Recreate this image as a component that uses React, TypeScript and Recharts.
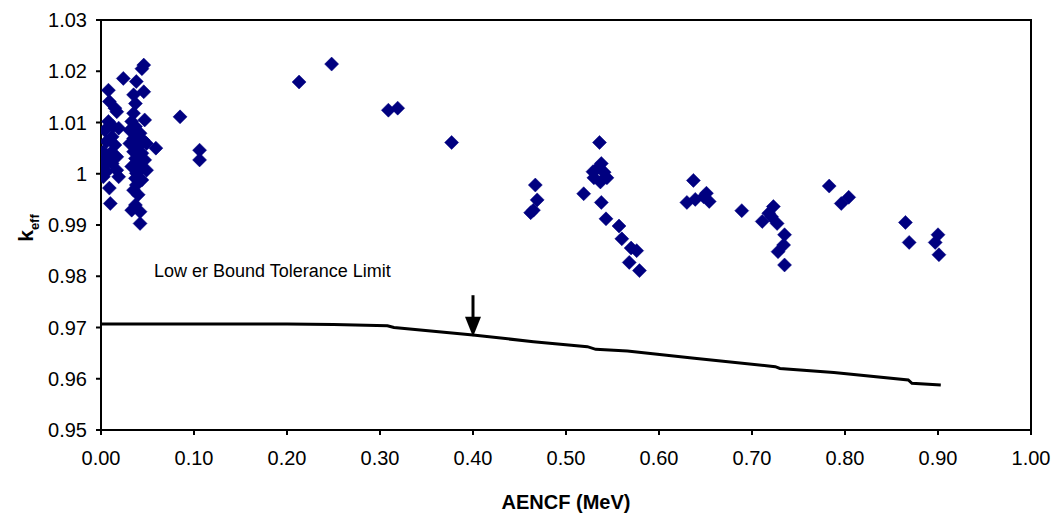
import React from "react";
import {
  ComposedChart,
  Scatter,
  Line,
  XAxis,
  YAxis,
  ReferenceLine,
  ReferenceDot,
  ReferenceArea,
  Label,
} from "recharts";

// Scatter: AENCF (MeV) values
const aencf: number[] = [
  0.008, 0.009, 0.015, 0.017, 0.008, 0.013, 0.019, 0.004, 0.012, 0.006, 0.015, 0.0025,
  0.010, 0.017, 0.004, 0.012, 0.0025, 0.006, 0.017, 0.019, 0.0025, 0.009, 0.010, 0.024,
  0.046, 0.044, 0.038, 0.046, 0.035, 0.037, 0.035, 0.047, 0.033, 0.037, 0.031, 0.042,
  0.035, 0.045, 0.031, 0.040, 0.049, 0.035, 0.044, 0.037, 0.047, 0.038, 0.033, 0.044,
  0.038, 0.049, 0.037, 0.044, 0.038, 0.035, 0.040, 0.037, 0.033, 0.042, 0.042,
  0.059, 0.085, 0.106, 0.106, 0.213, 0.248, 0.309, 0.319, 0.377,
  0.467, 0.469, 0.465, 0.462,
  0.536, 0.538, 0.529, 0.534, 0.541, 0.530, 0.537, 0.544, 0.519, 0.538, 0.543, 0.557,
  0.560, 0.570, 0.576, 0.568, 0.579,
  0.637, 0.630, 0.639, 0.651, 0.654, 0.648, 0.689,
  0.711, 0.718, 0.723, 0.727, 0.721, 0.735, 0.734, 0.728, 0.735,
  0.783, 0.804, 0.796, 0.865, 0.869, 0.900, 0.897, 0.901,
];
// Scatter: keff values
const keff: number[] = [
  1.0163, 1.0141, 1.0128, 1.0121, 1.0102, 1.0092, 1.0089, 1.0085, 1.0072, 1.0063, 1.0056, 1.0043,
  1.004, 1.0033, 1.0027, 1.002, 1.0014, 1.0004, 1.0007, 0.9994, 0.9994, 0.9972, 0.9942, 1.0186,
  1.0212, 1.0205, 1.018, 1.016, 1.0154, 1.0137, 1.0118, 1.0105, 1.0102, 1.0092, 1.0085, 1.0079,
  1.0069, 1.0066, 1.0059, 1.0053, 1.0059, 1.0043, 1.004, 1.003, 1.0027, 1.002, 1.0014, 1.0011,
  1.0001, 1.0007, 0.9991, 0.9988, 0.9978, 0.9968, 0.9959, 0.9939, 0.9929, 0.9926, 0.9903,
  1.005, 1.0111, 1.0046, 1.0027, 1.0179, 1.0214, 1.0124, 1.0128, 1.0061,
  0.9978, 0.9949, 0.9929, 0.9924,
  1.0061, 1.002, 1.0004, 1.0011, 1.0003, 0.9992, 0.9984, 0.9992, 0.9961, 0.9944, 0.9912, 0.9898,
  0.9873, 0.9855, 0.985, 0.9827, 0.9811,
  0.9987, 0.9944, 0.995, 0.9962, 0.9946, 0.9955, 0.9928,
  0.9907, 0.9923, 0.9936, 0.9903, 0.9916, 0.9881, 0.9861, 0.9848, 0.9822,
  0.9976, 0.9954, 0.9942, 0.9905, 0.9866, 0.9881, 0.9866, 0.9842,
];

// Lower bound tolerance limit curve
const limitX: number[] = [0.0, 0.1, 0.2, 0.25, 0.308, 0.315, 0.4, 0.465, 0.523, 0.532, 0.566, 0.638, 0.725, 0.73, 0.788, 0.868, 0.872, 0.903];
const limitY: number[] = [0.9707, 0.9707, 0.9707, 0.9706, 0.97035, 0.97, 0.96854, 0.96723, 0.96626, 0.96574, 0.9654, 0.964, 0.96236, 0.962, 0.9612, 0.95976, 0.95911, 0.95878];

const xTicks: number[] = [0, 0.1, 0.2, 0.3, 0.4, 0.5, 0.6, 0.7, 0.8, 0.9, 1.0];
const yTicks: number[] = [0.95, 0.96, 0.97, 0.98, 0.99, 1.0, 1.01, 1.02, 1.03];

const limitLabel = "Low er Bound Tolerance Limit";
const xTitle = "AENCF (MeV)";

const scatterData = aencf.map((x, i) => ({ x, y: keff[i] }));
const lineData = limitX.map((x, i) => ({ x, y: limitY[i] }));

const MARKER = "#000080";
const FONT = "'Liberation Sans', Arial, sans-serif";

const Diamond = (props: any) => {
  const { cx, cy } = props;
  if (cx == null || cy == null) return null;
  const h = 7;
  return (
    <polygon
      points={`${cx},${cy - h} ${cx + h},${cy} ${cx},${cy + h} ${cx - h},${cy}`}
      fill={MARKER}
      stroke={MARKER}
      strokeWidth={0.5}
    />
  );
};

const ArrowHead = (props: any) => {
  const { cx, cy } = props;
  if (cx == null || cy == null) return null;
  return <polygon points={`${cx - 8},${cy - 20} ${cx + 8},${cy - 20} ${cx},${cy}`} fill="#000" />;
};

const LimitText = (props: any) => {
  const { cx, cy } = props;
  if (cx == null || cy == null) return null;
  return (
    <text x={cx} y={cy} dominantBaseline="central" textAnchor="start" fontFamily={FONT} fontSize={18} fill="#000">
      {limitLabel}
    </text>
  );
};

const KLabel = () => (
  <text
    x={33}
    y={228}
    transform="rotate(-90, 33, 228)"
    textAnchor="middle"
    fontFamily={FONT}
    fontWeight="bold"
    fontSize={21}
    fill="#000"
  >
    k
    <tspan fontSize={13} dy={6}>
      eff
    </tspan>
  </text>
);

const fmtY = (v: number) => String(Number(v.toFixed(2)));
const fmtX = (v: number) => v.toFixed(2);

export default function App() {
  return (
    <div style={{ position: "absolute", left: 0, top: 0, background: "#fff" }}>
      <ComposedChart
        width={1055}
        height={516}
        margin={{ top: 20, right: 24, left: 0, bottom: 0 }}
        data={scatterData}
      >
        <XAxis
          type="number"
          dataKey="x"
          domain={[0, 1]}
          ticks={xTicks}
          tickFormatter={fmtX}
          allowDataOverflow
          height={86}
          stroke="#000"
          strokeWidth={2}
          tickSize={5}
          tickMargin={16}
          tick={{ fill: "#000", fontSize: 20, fontFamily: FONT }}
        >
          <Label
            value={xTitle}
            position="insideBottom"
            offset={7}
            style={{ fontFamily: FONT, fontWeight: "bold", fontSize: 20, fill: "#000" }}
          />
        </XAxis>
        <YAxis
          type="number"
          dataKey="y"
          domain={[0.95, 1.03]}
          ticks={yTicks}
          tickFormatter={fmtY}
          allowDataOverflow
          width={101}
          stroke="#000"
          strokeWidth={2}
          tickSize={5}
          tickMargin={9}
          tick={{ fill: "#000", fontSize: 20, fontFamily: FONT }}
        >
          <Label content={<KLabel />} />
        </YAxis>
        <ReferenceArea x1={0} x2={1} y1={0.95} y2={1.03} fill="none" stroke="#000" strokeWidth={2} />
        <Line
          data={lineData}
          dataKey="y"
          type="linear"
          stroke="#000"
          strokeWidth={3}
          dot={false}
          activeDot={false}
          isAnimationActive={false}
        />
        <Scatter data={scatterData} dataKey="y" shape={<Diamond />} isAnimationActive={false} />
        <ReferenceLine
          segment={[
            { x: 0.4, y: 0.9763 },
            { x: 0.4, y: 0.971 },
          ]}
          stroke="#000"
          strokeWidth={3}
        />
        <ReferenceDot x={0.4} y={0.9682} shape={<ArrowHead />} />
        <ReferenceDot x={0.057} y={0.981} shape={<LimitText />} />
      </ComposedChart>
    </div>
  );
}
